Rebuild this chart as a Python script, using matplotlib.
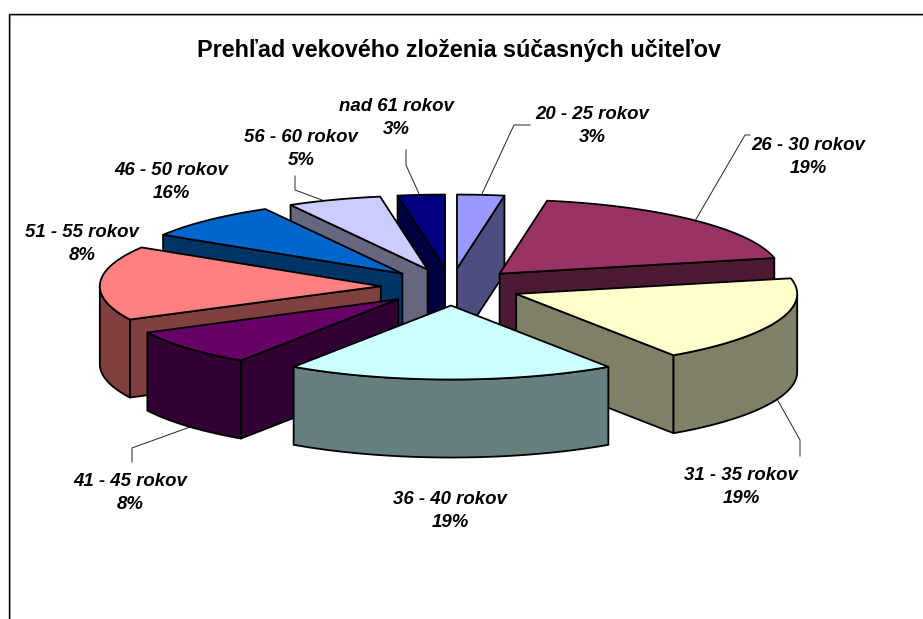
import numpy as np
import matplotlib
matplotlib.use('Agg')
import matplotlib.pyplot as plt
from matplotlib.patches import Polygon

plt.rcParams['font.family'] = ['Liberation Sans', 'DejaVu Sans']

title = 'Prehľad vekového zloženia súčasných učiteľov'
categories = ['20 - 25 rokov', '26 - 30 rokov', '31 - 35 rokov', '36 - 40 rokov', '41 - 45 rokov',
              '46 - 50 rokov', '51 - 55 rokov', '56 - 60 rokov', 'nad 61 rokov']
# teacher counts, these give the printed percentages once rounded
values = [1, 7, 7, 7, 3, 6, 3, 2, 1]
colors = ['#9999FF', '#993366', '#FFFFCC', '#CCFFFF', '#660066',
          '#FF8080', '#0066CC', '#CCCCFF', '#000080']

# label centre (x, y) in pixels, and leader line if it has one
label_pos = [(592, 126), (808, 157), (741, 487), (450, 511), (130, 493),
             (171, 182), (82, 244), (301, 149), (396, 118)]
leaders = [[(481, 196), (514, 125), (530, 125)],
           [(695, 221), (745, 135), (750, 135)],
           [(777, 399), (800, 440), (800, 456)],
           None,
           [(190, 427), (132, 448), (132, 462)],
           None,
           None,
           [(330, 203), (295, 190), (295, 176)],
           [(420, 196), (406, 165), (406, 150)]]

# pie geometry (pixels)
cx, cy = 451, 287
rx, ry = 281, 74
depth = 78
explode = 0.25


def darker(c):
    return tuple(v * 0.5 for v in matplotlib.colors.to_rgb(c))


def project(apex, th, r=1.0):
    return (apex[0] + rx * r * np.sin(th), apex[1] - ry * r * np.cos(th))


fig = plt.figure(figsize=(9.23, 6.19), dpi=100)
ax = fig.add_axes([0, 0, 1, 1])
ax.set_xlim(0, 923)
ax.set_ylim(619, 0)
ax.axis('off')

# chart frame with its thin grey shadow
ax.plot([9.6, 9.6, 923], [619, 15.2, 15.2], color='#bbbbbb', lw=0.8, zorder=1)
ax.plot([8.5, 8.5, 923], [619, 14, 14], color='black', lw=1.0, zorder=1)

frac = np.array(values) / sum(values)
edges = np.concatenate([[0], np.cumsum(frac)]) * 2 * np.pi
mids = (edges[:-1] + edges[1:]) / 2

# back slices first, the front one last
order = sorted(range(len(values)), key=lambda i: -abs(mids[i] - np.pi))
z = 2
style = dict(edgecolor='black', lw=1.3, joinstyle='round')
for i in order:
    t0, t1 = edges[i], edges[i + 1]
    apex = project((cx, cy), mids[i], explode)
    wall = darker(colors[i])
    arc = np.linspace(t0, t1, 60)
    top = [apex] + [project(apex, t) for t in arc]

    # cut faces that look towards the viewer
    for th, seen in ((t0, np.sin(t0) < -1e-9), (t1, np.sin(t1) > 1e-9)):
        if seen:
            p = project(apex, th)
            face = [apex, p, (p[0], p[1] + depth), (apex[0], apex[1] + depth)]
            ax.add_patch(Polygon(face, facecolor=wall, zorder=z, **style))
            z += 1

    # outer rim, only on the front half
    a0, a1 = max(t0, np.pi / 2), min(t1, 3 * np.pi / 2)
    if a1 > a0:
        rim = [project(apex, t) for t in np.linspace(a0, a1, 60)]
        low = [(x, y + depth) for x, y in rim][::-1]
        ax.add_patch(Polygon(rim + low, facecolor=wall, zorder=z, **style))
        z += 1

    ax.add_patch(Polygon(top, facecolor=colors[i], zorder=z, **style))
    z += 1

for cat, f, pos, line in zip(categories, frac, label_pos, leaders):
    ax.text(pos[0], pos[1], f'{cat}\n{round(f * 100)}%', ha='center', va='center', fontsize=13.4,
            fontweight='bold', fontstyle='italic', linespacing=1.4, zorder=z + 1)
    if line:
        ax.plot([p[0] for p in line], [p[1] for p in line], color='#222222', lw=0.7, zorder=1)

ax.text(459, 50, title, ha='center', va='center', fontsize=16.8, fontweight='bold', zorder=z + 1)

plt.savefig('out.png', dpi=100)
